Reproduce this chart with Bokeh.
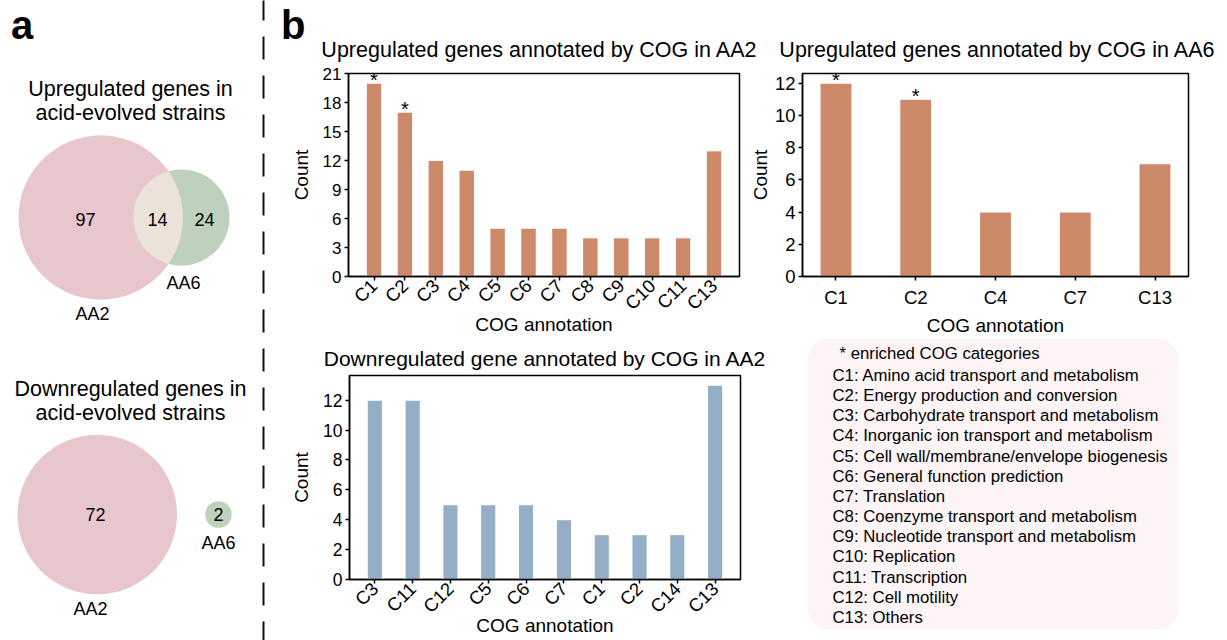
import math
import numpy as np
from bokeh.plotting import figure
from bokeh.layouts import row, column
from bokeh.models import Range1d, FixedTicker, BoxAnnotation
from bokeh.core.properties import value
from bokeh.embed import file_html
from bokeh.resources import INLINE

FONT = "Liberation Sans"
ORANGE = "#CD8A6B"
BLUE = "#93AEC6"
PINK = "#E8C7CC"
GREEN = "#BED1BD"
LENS = "#EBE3D9"
BOXFILL = "#FDF4F5"

# ---------------- data ----------------
up_venn_sets = ["AA2", "AA6"]
up_venn_only = [97, 24]
up_venn_shared = 14
down_venn_sets = ["AA2", "AA6"]
down_venn_only = [72, 2]
down_venn_shared = 0

up_aa2_title = "Upregulated genes annotated by COG in AA2"
up_aa2_cats = ["C1", "C2", "C3", "C4", "C5", "C6", "C7", "C8", "C9", "C10", "C11", "C13"]
up_aa2_counts = [20, 17, 12, 11, 5, 5, 5, 4, 4, 4, 4, 13]
up_aa2_enriched = ["C1", "C2"]

up_aa6_title = "Upregulated genes annotated by COG in AA6"
up_aa6_cats = ["C1", "C2", "C4", "C7", "C13"]
up_aa6_counts = [12, 11, 4, 4, 7]
up_aa6_enriched = ["C1", "C2"]

down_aa2_title = "Downregulated gene annotated by COG in AA2"
down_aa2_cats = ["C3", "C11", "C12", "C5", "C6", "C7", "C1", "C2", "C14", "C13"]
down_aa2_counts = [12, 12, 5, 5, 5, 4, 3, 3, 3, 13]
down_aa2_enriched = []

legend_header = "* enriched COG categories"
cog_codes = ["C1", "C2", "C3", "C4", "C5", "C6", "C7", "C8", "C9", "C10", "C11", "C12", "C13"]
cog_names = ["Amino acid transport and metabolism", "Energy production and conversion",
             "Carbohydrate transport and metabolism", "Inorganic ion transport and metabolism",
             "Cell wall/membrane/envelope biogenesis", "General function prediction",
             "Translation", "Coenzyme transport and metabolism",
             "Nucleotide transport and metabolism", "Replication", "Transcription",
             "Cell motility", "Others"]


def lens(c1, r1, c2, r2, n=720):
    t = np.linspace(0, 2 * np.pi, n, endpoint=False)
    p1 = np.c_[c1[0] + r1 * np.cos(t), c1[1] + r1 * np.sin(t)]
    p2 = np.c_[c2[0] + r2 * np.cos(t), c2[1] + r2 * np.sin(t)]
    in2 = np.hypot(p1[:, 0] - c2[0], p1[:, 1] - c2[1]) <= r2
    in1 = np.hypot(p2[:, 0] - c1[0], p2[:, 1] - c1[1]) <= r1
    pts = np.vstack([p1[in2], p2[in1]])
    cx, cy = pts.mean(axis=0)
    order = np.argsort(np.arctan2(pts[:, 1] - cy, pts[:, 0] - cx))
    return list(pts[order, 0]), list(pts[order, 1])


def txt(p, xs, ys, texts, size, align="center", style="normal"):
    p.text(x=xs, y=ys, text=texts, text_font=value(FONT), text_font_size=size,
           text_align=align, text_baseline="middle", text_color="black",
           text_font_style=style)


def blank(width, height, x0, y0):
    return figure(width=width, height=height, x_range=Range1d(x0, x0 + width),
                  y_range=Range1d(-(y0 + height), -y0), x_axis_type=None, y_axis_type=None,
                  output_backend="svg", toolbar_location=None, min_border=0,
                  outline_line_color=None)


# ---------------- panel a: Venn diagrams ----------------
venn = blank(280, 640, 0, 0)
txt(venn, [10.5], [-24], ["a"], "40px", align="left", style="bold")
venn.line(x=[263, 263], y=[3, -645], line_color="#111111", line_width=2, line_dash="23 16")

# upregulated
s_up = 7.8
r1 = s_up * math.sqrt(up_venn_only[0] + up_venn_shared)
r2 = s_up * math.sqrt(up_venn_only[1] + up_venn_shared)
cy = -217
c1 = (18 + r1, cy)
c2 = (229 - r2, cy)
venn.circle(x=[c1[0]], y=[cy], radius=r1, fill_color=PINK, line_color=None)
venn.circle(x=[c2[0]], y=[cy], radius=r2, fill_color=GREEN, line_color=None)
lx, ly = lens(c1, r1, c2, r2)
venn.patch(lx, ly, fill_color=LENS, line_color=None)
txt(venn, [130, 130], [-88, -112], ["Upregulated genes in", "acid-evolved strains"], "21.5px")
txt(venn, [85, 157, 204], [-219, -219, -219],
    [str(up_venn_only[0]), str(up_venn_shared), str(up_venn_only[1])], "18px")
txt(venn, [92, 183], [-313, -282], up_venn_sets, "18px")

# downregulated
s_dn = 9.4
r1 = s_dn * math.sqrt(down_venn_only[0] + down_venn_shared)
r2 = s_dn * math.sqrt(down_venn_only[1] + down_venn_shared)
cy = -514
venn.circle(x=[17 + r1], y=[cy], radius=r1, fill_color=PINK, line_color=None)
venn.circle(x=[218], y=[cy], radius=r2, fill_color=GREEN, line_color=None)
txt(venn, [130, 130], [-388, -412], ["Downregulated genes in", "acid-evolved strains"], "21.5px")
txt(venn, [95, 218], [-514, -514], [str(down_venn_only[0]), str(down_venn_only[1])], "18px")
txt(venn, [90, 218], [-608, -542], down_venn_sets, "18px")

# ---------------- header of panel b (panel letter + top chart titles) ----------------
head = blank(947, 65, 280, 0)
txt(head, [280.5], [-24], ["b"], "40px", align="left", style="bold")
txt(head, [539, 997], [-49.5, -49.5], [up_aa2_title, up_aa6_title], "21.5px")


# ---------------- panel b: bar charts ----------------
def bar_chart(title, cats, counts, enriched, color, bar_w, ymax, yticks, width, height,
              left, right, top, bottom, xtick_fs, ytick_fs, rotate, ylab_standoff,
              xlab_standoff, xtick_standoff, title_standoff=10):
    n = len(cats)
    xs = list(range(n))
    pad = 0.05 * (n - 1 + bar_w)
    p = figure(width=width, height=height, output_backend="svg", toolbar_location=None,
               x_range=Range1d(-bar_w / 2 - pad, n - 1 + bar_w / 2 + pad),
               y_range=Range1d(0, ymax),
               min_border_left=left, min_border_right=right,
               min_border_top=top, min_border_bottom=bottom)
    p.vbar(x=xs, top=counts, width=bar_w, fill_color=color, line_color="white", line_width=1)
    ex = [i for i, c in enumerate(cats) if c in enriched]
    if ex:
        p.text(x=ex, y=[counts[i] for i in ex], text=["*"] * len(ex), text_font=value(FONT),
               text_font_size="20px", text_align="center", text_baseline="middle",
               y_offset=-3, text_color="black")
    p.grid.visible = False
    p.outline_line_color = "black"
    p.outline_line_width = 1.5
    if title:
        p.title.text = title
        p.title.text_font = FONT
        p.title.text_font_size = "21px"
        p.title.text_font_style = "normal"
        p.title.text_color = "black"
        p.title.align = "center"
        p.title.standoff = title_standoff
    p.xaxis.ticker = FixedTicker(ticks=xs)
    p.xaxis.major_label_overrides = {i: c for i, c in enumerate(cats)}
    p.yaxis.ticker = FixedTicker(ticks=yticks)
    p.xaxis.axis_label = "COG annotation"
    p.yaxis.axis_label = "Count"
    for ax, fs in ((p.xaxis[0], xtick_fs), (p.yaxis[0], ytick_fs)):
        ax.axis_line_color = "black"
        ax.axis_line_width = 1.5
        ax.major_tick_line_color = "black"
        ax.major_tick_line_width = 1.5
        ax.major_tick_out = 4
        ax.major_tick_in = 0
        ax.minor_tick_line_color = None
        ax.major_label_text_font = FONT
        ax.major_label_text_font_size = fs
        ax.major_label_text_color = "black"
        ax.axis_label_text_font = FONT
        ax.axis_label_text_font_size = "19px"
        ax.axis_label_text_font_style = "normal"
        ax.axis_label_text_color = "black"
    p.yaxis.major_label_standoff = 3
    p.yaxis.axis_label_standoff = ylab_standoff
    p.xaxis.major_label_standoff = xtick_standoff
    p.xaxis.axis_label_standoff = xlab_standoff
    if rotate:
        p.xaxis.major_label_orientation = math.pi / 4
    return p


chart1 = bar_chart(None, up_aa2_cats, up_aa2_counts, up_aa2_enriched, ORANGE, 0.5, 21,
                   list(range(0, 22, 3)), 466, 273, 68, 7, 8, 61, "18.5px", "17px",
                   True, 8, -10, 2)

chart2 = bar_chart(None, up_aa6_cats, up_aa6_counts, up_aa6_enriched, ORANGE, 0.4,
                   max(up_aa6_counts) * 1.05, list(range(0, 13, 2)),
                   481, 273, 53, 39, 8, 62, "18.5px", "18.5px", False, 1, 4, 6)

chart3 = bar_chart(down_aa2_title, down_aa2_cats, down_aa2_counts, down_aa2_enriched, BLUE,
                   0.4, max(down_aa2_counts) * 1.05, list(range(0, 13, 2)),
                   500, 302, 69, 40, 37, 61, "18.5px", "17.5px", True, 8, -12, 2,
                   title_standoff=11)

# ---------------- legend box ----------------
leg = blank(447, 302, 780, 338)
leg.add_layout(BoxAnnotation(left=807, right=1178, top=-338, bottom=-629,
                             fill_color=BOXFILL, fill_alpha=1, line_color=None,
                             border_radius=22, level="underlay"))
leg_lines = [legend_header] + [f"{c}: {n}" for c, n in zip(cog_codes, cog_names)]
leg_x = [839] + [832] * len(cog_codes)
leg_y = [-353] + [-(375 + 20.15 * i) for i in range(len(cog_codes))]
txt(leg, leg_x, leg_y, leg_lines, "16.75px", align="left")

root = row(venn, column(head, row(chart1, chart2), row(chart3, column(leg))))

open("out.html", "w").write(file_html(root, INLINE))
